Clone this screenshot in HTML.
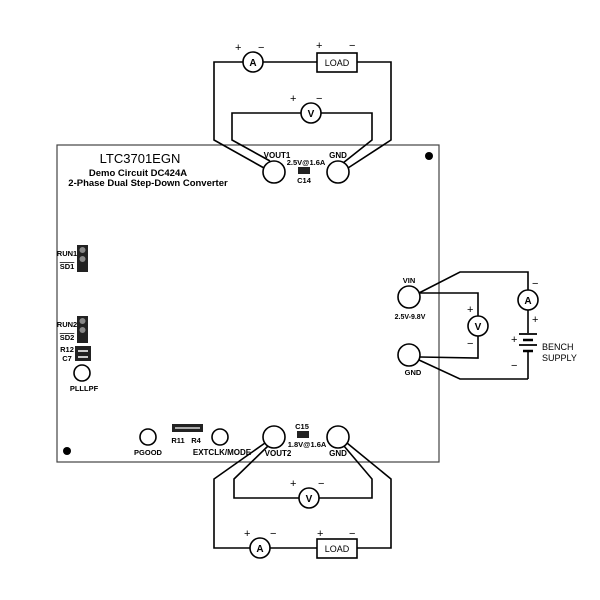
<!DOCTYPE html>
<html><head><meta charset="utf-8"><style>
html,body{margin:0;padding:0;background:#fff;}
svg{display:block}
text{font-family:"Liberation Sans",sans-serif;fill:#000}
.b{font-weight:bold}
</style></head><body>
<svg width="600" height="600" viewBox="0 0 600 600" xmlns="http://www.w3.org/2000/svg">
<g fill="none" stroke="#000" stroke-width="1.6">
<rect x="57" y="145" width="382" height="317" stroke-width="1.2" stroke="#444"/>
<polyline points="264,168 214,140 214,62 243,62"/>
<line x1="263" y1="62" x2="317" y2="62"/>
<rect x="317" y="53" width="40" height="19"/>
<polyline points="357,62 391,62 391,140 348,168"/>
<polyline points="270,161 232,140 232,113 301,113"/>
<polyline points="321,113 372,113 372,140 343,163"/>
<circle cx="253" cy="62" r="10"/>
<circle cx="311" cy="113" r="10"/>
<circle cx="274" cy="172" r="11"/>
<circle cx="338" cy="172" r="11"/>
<circle cx="409" cy="297" r="11"/>
<circle cx="409" cy="355" r="11"/>
<polyline points="419,293 460,272 528,272 528,290"/>
<circle cx="528" cy="300" r="10"/>
<line x1="528" y1="310" x2="528" y2="333"/>
<line x1="528" y1="351" x2="528" y2="379"/>
<polyline points="528,379 460,379 419,360"/>
<polyline points="420,293 478,293 478,316"/>
<circle cx="478" cy="326" r="10"/>
<polyline points="478,336 478,358 420,357"/>
<line x1="519" y1="334" x2="537" y2="334" stroke-width="1.8"/>
<line x1="523" y1="340" x2="533" y2="340" stroke-width="2.5"/>
<line x1="519" y1="345" x2="537" y2="345" stroke-width="1.8"/>
<line x1="523" y1="351" x2="533" y2="351" stroke-width="2.5"/>
<circle cx="148" cy="437" r="8"/>
<circle cx="220" cy="437" r="8"/>
<circle cx="274" cy="437" r="11"/>
<circle cx="338" cy="437" r="11"/>
<polyline points="265,443 214,479 214,548 250,548"/>
<line x1="270" y1="548" x2="317" y2="548"/>
<rect x="317" y="539" width="40" height="19"/>
<polyline points="357,548 391,548 391,479 347,443"/>
<polyline points="268,446 234,479 234,498 299,498"/>
<polyline points="319,498 372,498 372,479 344,446"/>
<circle cx="260" cy="548" r="10"/>
<circle cx="309" cy="498" r="10"/>
<circle cx="82" cy="373" r="8"/>
</g>
<circle cx="429" cy="156" r="4" fill="#000"/>
<circle cx="67" cy="451" r="4" fill="#000"/>
<rect x="77" y="245" width="11" height="27" fill="#222"/>
<circle cx="82.5" cy="250" r="3" fill="#888"/><circle cx="82.5" cy="259" r="3" fill="#888"/>
<rect x="77" y="316" width="11" height="27" fill="#222"/>
<circle cx="82.5" cy="321" r="3" fill="#888"/><circle cx="82.5" cy="330" r="3" fill="#888"/>
<rect x="75" y="346" width="16" height="15" fill="#222"/>
<rect x="78" y="350" width="10" height="2" fill="#ccc"/><rect x="78" y="356" width="10" height="2" fill="#ccc"/>
<rect x="298" y="167" width="12" height="7" fill="#222"/>
<rect x="297" y="431" width="12" height="7" fill="#222"/>
<rect x="172" y="424" width="31" height="8" fill="#222"/>
<rect x="175" y="427" width="25" height="2" fill="#aaa"/>
<text x="140" y="163" font-size="13" text-anchor="middle">LTC3701EGN</text>
<g class="b">
<text x="138" y="176" font-size="9.5" text-anchor="middle">Demo Circuit DC424A</text>
<text x="148" y="186" font-size="9.5" text-anchor="middle">2-Phase Dual Step-Down Converter</text>
<text x="277" y="158" font-size="8" text-anchor="middle">VOUT1</text>
<text x="306" y="165" font-size="7.5" text-anchor="middle">2.5V@1.6A</text>
<text x="304" y="183" font-size="7.5" text-anchor="middle">C14</text>
<text x="338" y="158" font-size="8" text-anchor="middle">GND</text>
<text x="67" y="256" font-size="7.5" text-anchor="middle">RUN1</text>
<text x="67" y="269" font-size="7.5" text-anchor="middle" text-decoration="overline">SD1</text>
<text x="67" y="327" font-size="7.5" text-anchor="middle">RUN2</text>
<text x="67" y="340" font-size="7.5" text-anchor="middle" text-decoration="overline">SD2</text>
<text x="67" y="352" font-size="7.5" text-anchor="middle">R12</text>
<text x="67" y="361" font-size="7.5" text-anchor="middle">C7</text>
<text x="84" y="391" font-size="7.5" text-anchor="middle">PLLLPF</text>
<text x="409" y="283" font-size="7.5" text-anchor="middle">VIN</text>
<text x="410" y="319" font-size="7" text-anchor="middle">2.5V-9.8V</text>
<text x="413" y="375" font-size="7.5" text-anchor="middle">GND</text>
<text x="148" y="455" font-size="7.5" text-anchor="middle">PGOOD</text>
<text x="178" y="443" font-size="7.5" text-anchor="middle">R11</text>
<text x="196" y="443" font-size="7.5" text-anchor="middle">R4</text>
<text x="222" y="455" font-size="8" text-anchor="middle">EXTCLK/MODE</text>
<text x="278" y="456" font-size="8" text-anchor="middle">VOUT2</text>
<text x="302" y="429" font-size="7.5" text-anchor="middle">C15</text>
<text x="307" y="447" font-size="7.5" text-anchor="middle">1.8V@1.6A</text>
<text x="338" y="456" font-size="8" text-anchor="middle">GND</text>
<text x="253" y="66" font-size="10" text-anchor="middle">A</text>
<text x="311" y="117" font-size="10" text-anchor="middle">V</text>
<text x="528" y="304" font-size="10" text-anchor="middle">A</text>
<text x="478" y="330" font-size="10" text-anchor="middle">V</text>
<text x="260" y="552" font-size="10" text-anchor="middle">A</text>
<text x="309" y="502" font-size="10" text-anchor="middle">V</text>
</g>
<text x="337" y="66" font-size="9" text-anchor="middle">LOAD</text>
<text x="337" y="552" font-size="9" text-anchor="middle">LOAD</text>
<text x="542" y="350" font-size="9">BENCH</text>
<text x="542" y="361" font-size="9">SUPPLY</text>
<g font-size="11">
<text x="235" y="51">+</text><text x="258" y="51">−</text>
<text x="316" y="49">+</text><text x="349" y="49">−</text>
<text x="290" y="102">+</text><text x="316" y="102">−</text>
<text x="532" y="287">−</text><text x="532" y="323">+</text>
<text x="467" y="313">+</text><text x="467" y="347">−</text>
<text x="511" y="343">+</text><text x="511" y="369">−</text>
<text x="290" y="487">+</text><text x="318" y="487">−</text>
<text x="244" y="537">+</text><text x="270" y="537">−</text>
<text x="317" y="537">+</text><text x="349" y="537">−</text>
</g>
</svg>
</body></html>
